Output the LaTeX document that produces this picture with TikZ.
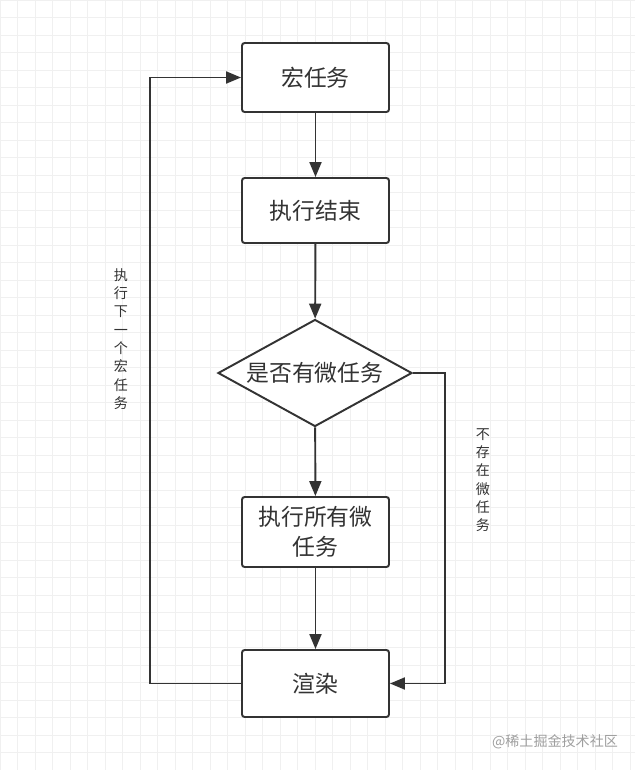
\documentclass[tikz,border=0pt]{standalone}
\usepackage{fontspec}
\setmainfont{Noto Sans CJK SC}
\usetikzlibrary{shapes.geometric,arrows.meta}

\definecolor{ink}{HTML}{333333}
\definecolor{gridgray}{HTML}{F0F0F0}

\tikzset{
  box/.style={draw=ink, line width=1.1pt, rounded corners=1.5pt, fill=white,
    minimum width=2.94cm, text=ink, font=\fontsize{13}{17}\selectfont, align=center},
  ask/.style={draw=ink, line width=1.1pt, diamond, fill=white, aspect=1.81,
    minimum width=3.88cm, minimum height=2.14cm, inner sep=0pt, text=ink,
    font=\fontsize{13}{17}\selectfont},
  flow/.style={draw=ink, line width=1.1pt},
  side/.style={text=ink, font=\fontsize{8}{10.4}\selectfont, align=center}
}

\begin{document}
\begin{tikzpicture}[>={Triangle[length=3mm,width=2.4mm]}]
\useasboundingbox (0,0) rectangle (12.7,-15.4);
\fill[white] (0,0) rectangle (12.7,-15.4);
\draw[gridgray, line width=0.5pt, step=0.35cm] (0,-15.4) grid (12.7,0);
% boxes
\node[box, minimum height=1.38cm] (macro) at (6.31,-1.55) {宏任务};
\node[box, minimum height=1.3cm] (done) at (6.31,-4.21) {执行结束};
\node[ask] (check) at (6.30,-7.46) {是否有微任务};
\node[box, minimum height=1.4cm] (micro) at (6.31,-10.64) {执行所有微\\任务};
\node[box, minimum height=1.34cm] (render) at (6.31,-13.67) {渲染};
\coordinate (lb) at (3.0,-13.67);
\coordinate (lt) at (3.0,-1.55);
\coordinate (rt) at (8.9,-7.46);
\coordinate (rb) at (8.9,-13.67);
% arrows
\path[flow,->] (macro) -- (done);
\path[flow,->] (done) -- (check);
\path[flow,->] (check) -- (micro);
\path[flow,->] (micro) -- (render);
\path[flow,->] (render.west) -- (lb) -- (lt) -- (macro.west);
\path[flow,->] (check.east) -- (rt) -- (rb) -- (render.east);
% side labels
\node[side] (next) at (2.42,-6.78) {执\\行\\下\\一\\个\\宏\\任\\务};
\node[side] (none) at (9.66,-9.6) {不\\存\\在\\微\\任\\务};
\node[text=gray!75, font=\fontsize{8}{10}\selectfont] (mark) at (11.1,-14.84) {@稀土掘金技术社区};
\end{tikzpicture}
\end{document}
